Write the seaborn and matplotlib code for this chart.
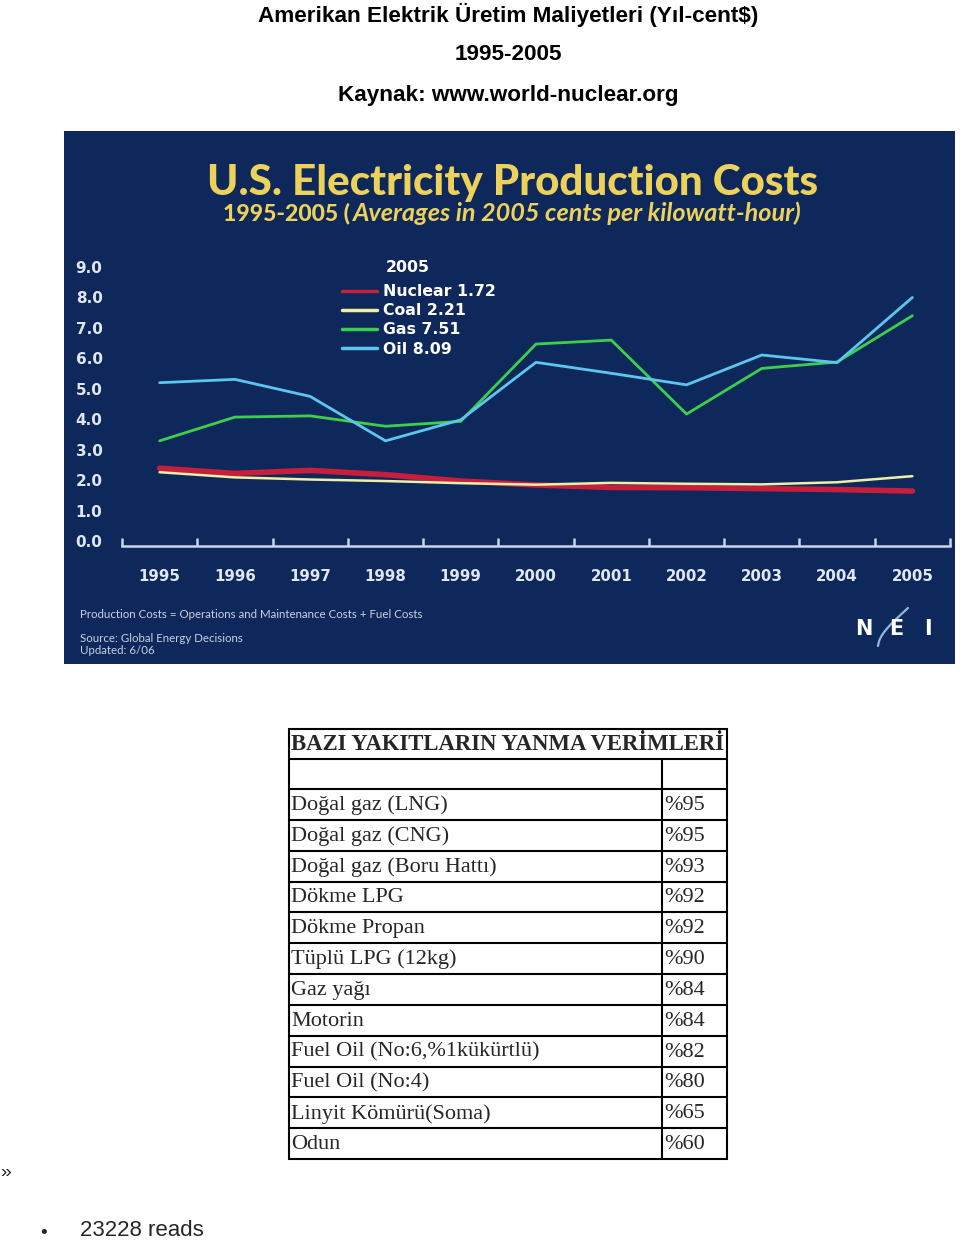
import numpy as np
import pandas as pd
import matplotlib
matplotlib.use("Agg")
import matplotlib.pyplot as plt
from matplotlib.lines import Line2D
import seaborn as sns

# ---------------- data ----------------
years = [1995, 1996, 1997, 1998, 1999, 2000, 2001, 2002, 2003, 2004, 2005]
nuclear = [2.39, 2.22, 2.32, 2.18, 1.97, 1.84, 1.76, 1.75, 1.72, 1.69, 1.64]
coal = [2.26, 2.09, 2.02, 1.97, 1.90, 1.85, 1.91, 1.88, 1.86, 1.93, 2.13]
gas = [3.29, 4.07, 4.11, 3.77, 3.93, 6.47, 6.60, 4.17, 5.67, 5.88, 7.40]
oil = [5.20, 5.31, 4.75, 3.29, 3.98, 5.87, 5.51, 5.13, 6.11, 5.86, 8.00]
series_names = ["Nuclear", "Coal", "Gas", "Oil"]
legend_2005 = ["1.72", "2.21", "7.51", "8.09"]
y_ticks = [0, 1, 2, 3, 4, 5, 6, 7, 8, 9]

table_header = "BAZI YAKITLARIN YANMA VERİMLERİ"
fuels = ["Doğal gaz (LNG)", "Doğal gaz (CNG)", "Doğal gaz (Boru Hattı)", "Dökme LPG",
         "Dökme Propan", "Tüplü LPG (12kg)", "Gaz yağı", "Motorin",
         "Fuel Oil (No:6,%1kükürtlü)", "Fuel Oil (No:4)", "Linyit Kömürü(Soma)", "Odun"]
efficiency = ["%95", "%95", "%93", "%92", "%92", "%90", "%84", "%84", "%82", "%80", "%65", "%60"]

# ---------------- styles ----------------
sns.set_style("white")
plt.rcParams["font.family"] = ["Lato", "DejaVu Sans"]

W, H = 960, 1243
fig = plt.figure(figsize=(W / 100, H / 100), dpi=100)
fig.patch.set_facecolor("white")


def fx(x):
    return x / W


def fy(y):
    return 1 - y / H


BG = "#0e285b"
GOLD = "#ecd25a"
LIGHT = "#dfe7f3"
sans = ["Liberation Sans", "DejaVu Sans"]
serif = ["Liberation Serif", "DejaVu Serif"]
dvs = ["DejaVu Sans"]

# top Turkish titles
for txt, yy in [("Amerikan Elektrik Üretim Maliyetleri (Yıl-cent$)", 15),
                ("1995-2005", 55),
                ("Kaynak: www.world-nuclear.org", 95)]:
    fig.text(fx(508), fy(yy), txt, ha="center", va="center", fontsize=16.2,
             fontweight="bold", family=sans, color="black")

# dark panel (background axes)
bg_ax = fig.add_axes([fx(64), fy(664), fx(955) - fx(64), fy(131) - fy(664)], zorder=-5)
bg_ax.set_facecolor(BG)
bg_ax.set_xticks([])
bg_ax.set_yticks([])
for s in bg_ax.spines.values():
    s.set_visible(False)

fig.text(fx(513), fy(183), "U.S. Electricity Production Costs", ha="center", va="center",
         fontsize=30.3, fontweight="black", color=GOLD)
fig.text(fx(350), fy(213), "1995-2005 (", ha="right", va="center", fontsize=16.6,
         fontweight="black", color=GOLD)
fig.text(fx(352), fy(213), "Averages in 2005 cents per kilowatt-hour)", ha="left",
         va="center", fontsize=18.2, fontweight="bold", style="italic", color=GOLD)

# ---------------- axes ----------------
ax_left, ax_right = 122, 950
y0_px, unit_px = 541, 30.44
ylo, yhi = -0.16, 9.5
bot_px = y0_px - ylo * unit_px
top_px = y0_px - yhi * unit_px
ax = fig.add_axes([fx(ax_left), fy(bot_px), (ax_right - ax_left) / W, (bot_px - top_px) / H])
ax.set_facecolor("none")

df = pd.DataFrame({"year": years * 4,
                   "cost": nuclear + coal + gas + oil,
                   "fuel": sum([[n] * len(years) for n in series_names], [])})
colors = {"Nuclear": "#c81e3c", "Coal": "#eef0a8", "Gas": "#3ccf4a", "Oil": "#5cc6ee"}
widths = {"Nuclear": 4.0, "Coal": 1.8, "Gas": 2.0, "Oil": 2.0}
for name in series_names:
    sns.lineplot(data=df[df["fuel"] == name], x="year", y="cost", ax=ax,
                 color=colors[name], linewidth=widths[name], legend=False)

ax.set_xlim(1994.5, 2005.5)
ax.set_ylim(ylo, yhi)
ax.set_xlabel("")
ax.set_ylabel("")
for s in ["top", "right", "left"]:
    ax.spines[s].set_visible(False)
ax.spines["bottom"].set_color("#c9d5ea")
ax.spines["bottom"].set_linewidth(1.8)

ax.set_yticks(y_ticks)
ax.set_yticklabels([f"{v:.1f}" for v in y_ticks], family=dvs, fontweight="bold")
ax.tick_params(axis="y", left=False, length=0, pad=14, labelsize=11, labelcolor=LIGHT)

bounds = [y - 0.5 for y in years] + [years[-1] + 0.5]
ax.set_xticks(bounds)
ax.set_xticklabels([""] * len(bounds))
ax.tick_params(axis="x", which="major", bottom=True, direction="in", length=6, width=1.8,
               color="#c9d5ea")
ax.set_xticks(years, minor=True)
ax.set_xticklabels([str(y) for y in years], minor=True, family=dvs, fontweight="bold")
ax.tick_params(axis="x", which="minor", bottom=True, length=0, pad=17, labelsize=10.8,
               labelcolor=LIGHT)
ax.grid(False)

# legend
handles = [Line2D([0], [0], color=colors[n], lw=2.5) for n in series_names]
labels = [f"{n} {v}" for n, v in zip(series_names, legend_2005)]
leg = ax.legend(handles, labels, loc="upper left",
                bbox_to_anchor=((342 - ax_left) / (ax_right - ax_left),
                                1 - (284 - top_px) / (bot_px - top_px)),
                frameon=False, borderpad=0, borderaxespad=0, handlelength=2.2,
                handletextpad=0.4, labelspacing=0.27,
                prop={"weight": "bold", "size": 11.3, "family": "DejaVu Sans"})
for t in leg.get_texts():
    t.set_color("white")
fig.text(fx(408), fy(267), "2005", ha="center", va="center", fontsize=11.3,
         fontweight="bold", family=dvs, color="white")

# footnotes
fig.text(fx(80), fy(615), "Production Costs = Operations and Maintenance Costs + Fuel Costs",
         ha="left", va="center", fontsize=8.3, color="#c8d2e4")
fig.text(fx(80), fy(639), "Source: Global Energy Decisions", ha="left", va="center",
         fontsize=8.3, color="#c8d2e4")
fig.text(fx(80), fy(651), "Updated: 6/06", ha="left", va="center", fontsize=8.3,
         color="#c8d2e4")

# NEI logo
for letter, lx in [("N", 864), ("E", 896), ("I", 928)]:
    fig.text(fx(lx), fy(629), letter, ha="center", va="center", fontsize=15,
             fontweight="bold", family=dvs, color="white")
tt = np.linspace(0, 1, 40)
fig.add_artist(Line2D(fx(878 + 30 * tt - 8 * np.sin(np.pi * tt)),
                      fy(646 - 38 * tt + 4 * np.sin(np.pi * tt)),
                      color="#8fb8e0", lw=1.6, transform=fig.transFigure))

# ---------------- table ----------------
tl, tr, tsplit = 289, 727, 662
t_top, t_hdr, t_body = 729, 759, 789
row_h = (1159 - t_body) / len(fuels)
lw = 1.5


def hline(y, x0=tl, x1=tr):
    fig.add_artist(Line2D([fx(x0), fx(x1)], [fy(y), fy(y)], color="black", lw=lw,
                          transform=fig.transFigure))


def vline(x, y0, y1):
    fig.add_artist(Line2D([fx(x), fx(x)], [fy(y0), fy(y1)], color="black", lw=lw,
                          transform=fig.transFigure))


hline(t_top)
hline(t_hdr)
for i in range(len(fuels) + 1):
    hline(t_body + i * row_h)
vline(tl, t_top, 1159)
vline(tr, t_top, 1159)
vline(tsplit, t_hdr, 1159)

fig.text(fx(291), fy(744), table_header, ha="left", va="center", fontsize=16.4,
         fontweight="bold", family=serif)
for i, (f, e) in enumerate(zip(fuels, efficiency)):
    yc = t_body + (i + 0.5) * row_h + 1
    fig.text(fx(291), fy(yc), f, ha="left", va="center", fontsize=16, family=serif)
    fig.text(fx(664), fy(yc), e, ha="left", va="center", fontsize=16, family=serif)

fig.text(fx(0), fy(1172), "»", ha="left", va="center", fontsize=14, family=sans)
fig.text(fx(44), fy(1233), "•", ha="center", va="center", fontsize=14, family=sans)
fig.text(fx(80), fy(1231), "23228 reads", ha="left", va="center", fontsize=16, family=sans)

fig.savefig("out.png", dpi=100, facecolor="white")
